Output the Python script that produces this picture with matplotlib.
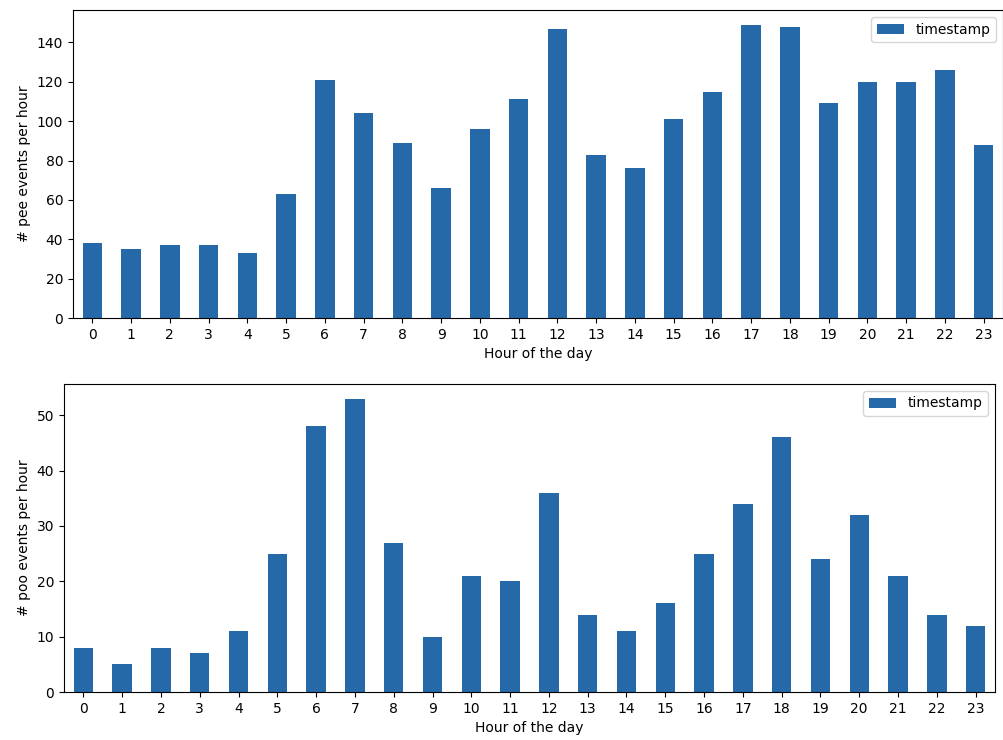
import matplotlib
matplotlib.use("Agg")
import matplotlib.pyplot as plt
import numpy as np

hours = list(range(24))
pee_counts = [38, 35, 37, 37, 33, 63, 121, 104, 89, 66, 96, 111, 147, 83, 76, 101, 115, 149, 148, 109, 120, 120, 126, 88]
poo_counts = [8, 5, 8, 7, 11, 25, 48, 53, 27, 10, 21, 20, 36, 14, 11, 16, 25, 34, 46, 24, 32, 21, 14, 12]
series_name = "timestamp"
bar_color = "#2669a8"

fig = plt.figure(figsize=(10.04, 7.40), dpi=100)
ax1 = fig.add_axes([73/1004, (740-318)/740, 930/1004, 308/740])
ax2 = fig.add_axes([64/1004, (740-692)/740, 931/1004, 308/740])

for ax, vals, ylab in [(ax1, pee_counts, "# pee events per hour"),
                       (ax2, poo_counts, "# poo events per hour")]:
    ax.bar(hours, vals, width=0.5, color=bar_color, label=series_name)
    ax.set_xlim(-0.5, len(hours) - 0.5)
    ax.set_xticks(hours)
    ax.set_xticklabels([str(h) for h in hours])
    ax.set_xlabel("Hour of the day")
    ax.set_ylabel(ylab)
    ax.legend(loc="upper right")

fig.savefig("out.png", dpi=100)
